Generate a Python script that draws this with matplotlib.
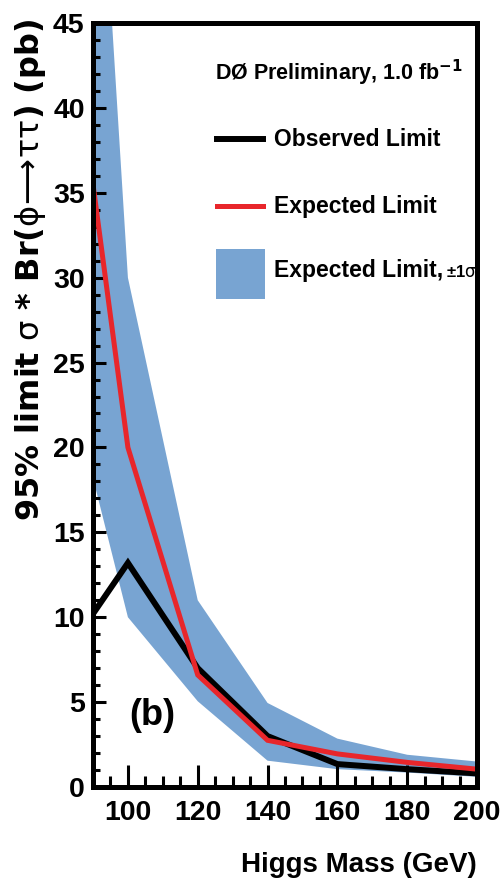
import matplotlib
matplotlib.use("Agg")
import matplotlib.pyplot as plt
from matplotlib.ticker import MultipleLocator, FixedLocator
from matplotlib.patches import Rectangle
from matplotlib.lines import Line2D

# Higgs mass points (GeV)
mass = [90, 100, 120, 140, 160, 180, 200]
# 95% CL limits on sigma * Br(phi -> tau tau), in pb
observed = [10.2, 13.2, 7.0, 3.0, 1.35, 1.05, 0.8]
expected = [35.5, 20.0, 6.6, 2.75, 1.95, 1.45, 1.05]
band_low = [18.2, 10.0, 5.05, 1.55, 1.05, 0.85, 0.6]
band_high = [63.0, 30.0, 11.0, 4.95, 2.85, 1.9, 1.5]

x_ticks = [100, 120, 140, 160, 180, 200]
y_ticks = [0, 5, 10, 15, 20, 25, 30, 35, 40, 45]

band_color = "#78a4d2"
red = "#e8262b"

plt.rcParams["mathtext.fontset"] = "dejavusans"

sans = ["Liberation Sans", "DejaVu Sans"]
wide = ["DejaVu Sans"]

fig = plt.figure(figsize=(5.02, 8.84), dpi=100)
ax = fig.add_axes([93 / 502, 97 / 884, 384 / 502, 764 / 884])

ax.fill_between(mass, band_low, band_high, color=band_color, lw=0, zorder=1)
ax.plot(mass, observed, color="black", lw=4.3, solid_joinstyle="miter", zorder=3)
ax.plot(mass, expected, color=red, lw=3.6, solid_joinstyle="miter", zorder=4)

ax.set_xlim(90, 200)
ax.set_ylim(0, 45)

ax.xaxis.set_major_locator(FixedLocator(x_ticks))
ax.xaxis.set_minor_locator(MultipleLocator(5))
ax.yaxis.set_major_locator(FixedLocator(y_ticks))
ax.yaxis.set_minor_locator(MultipleLocator(1))

for s in ax.spines.values():
    s.set_linewidth(3.6)
    s.set_zorder(6)

ax.tick_params(axis="x", which="major", direction="in", length=16, width=2.2, pad=9)
ax.tick_params(axis="x", which="minor", direction="in", length=8, width=2.2)
ax.tick_params(axis="y", which="major", direction="in", length=9, width=2.2, pad=6)
ax.tick_params(axis="y", which="minor", direction="in", length=5, width=2.2)
ax.tick_params(top=False, right=False, which="both")

for lab in ax.get_xticklabels() + ax.get_yticklabels():
    lab.set_fontfamily(sans)
    lab.set_fontweight("bold")
    lab.set_fontsize(20.5)

ax.set_xlabel("Higgs Mass (GeV)", family=sans, fontweight="bold", fontsize=20)
ax.xaxis.set_label_coords(1.0, -0.085)
ax.xaxis.label.set_horizontalalignment("right")

fig.text(31 / 502, 1 - 270 / 884,
         r"95% limit $\mathrm{\sigma}$ * Br($\mathrm{\phi\!\longrightarrow\!\tau\tau}$) (pb)",
         rotation=90, ha="center", va="center", family=wide,
         fontweight="bold", fontsize=23)


def fx(px):
    return px / 502


def fy(py):
    return 1 - py / 884


fig.text(fx(215), fy(73), r"DØ Preliminary, 1.0 fb$^{\mathbf{-1}}$", family=sans,
         fontweight="bold", fontsize=15.5, ha="left", va="center")
fig.add_artist(Line2D([fx(217), fx(263)], [fy(139), fy(139)], color="black", lw=4.3))
fig.text(fx(274), fy(139), "Observed Limit", family=sans, fontweight="bold",
         fontsize=16.5, ha="left", va="center")
fig.add_artist(Line2D([fx(217), fx(263)], [fy(206), fy(206)], color=red, lw=3.6))
fig.text(fx(274), fy(206), "Expected Limit", family=sans, fontweight="bold",
         fontsize=16.5, ha="left", va="center")
fig.add_artist(Rectangle((fx(216), fy(299)), fx(49), 50 / 884, color=band_color, lw=0))
fig.text(fx(274), fy(270), "Expected Limit,", family=sans, fontweight="bold",
         fontsize=16.5, ha="left", va="center")
fig.text(fx(446), fy(272), r"±1$\mathrm{\sigma}$", family=sans, fontweight="bold",
         fontsize=12, ha="left", va="center")

ax.text(107, 4.2, "(b)", family=sans, fontweight="bold", fontsize=26,
        ha="center", va="center")

fig.savefig("out.png", dpi=100)
